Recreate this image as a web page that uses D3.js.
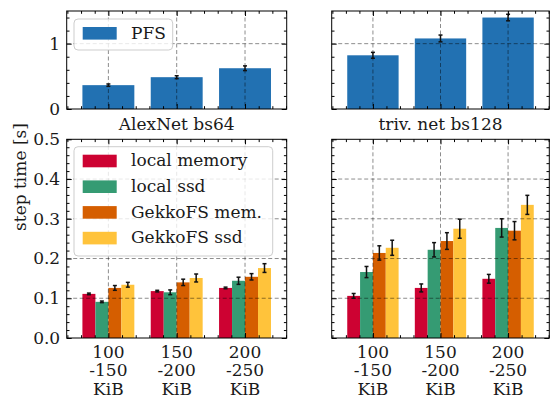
<!DOCTYPE html>
<html>
<head>
<meta charset="utf-8">
<script src="https://cdn.jsdelivr.net/npm/d3@7"></script>
<style>
  body { margin: 0; background: #fff; }
  svg { display: block; }
</style>
</head>
<body>
<div class="area"></div>
<script>
// ---- data ----
const models = ["AlexNet bs64", "triv. net bs128"]
const sizeLabels = [["100", "-150", "KiB"], ["150", "-200", "KiB"], ["200", "-250", "KiB"]]
const seriesNames = ["local memory", "local ssd", "GekkoFS mem.", "GekkoFS ssd"]

const pfsAlex = [0.365, 0.487, 0.624]
const pfsAlexErr = [0.018, 0.022, 0.036]
const pfsTriv = [0.822, 1.08, 1.40]
const pfsTrivErr = [0.045, 0.052, 0.05]

const alexLocalMem = [0.111, 0.118, 0.126]
const alexLocalMemErr = [0.002, 0.002, 0.002]
const alexLocalSsd = [0.091, 0.115, 0.144]
const alexLocalSsdErr = [0.002, 0.006, 0.009]
const alexGekkoMem = [0.126, 0.140, 0.154]
const alexGekkoMemErr = [0.006, 0.008, 0.008]
const alexGekkoSsd = [0.134, 0.151, 0.176]
const alexGekkoSsdErr = [0.006, 0.010, 0.011]

const trivLocalMem = [0.106, 0.126, 0.149]
const trivLocalMemErr = [0.006, 0.010, 0.011]
const trivLocalSsd = [0.166, 0.222, 0.277]
const trivLocalSsdErr = [0.014, 0.018, 0.023]
const trivGekkoMem = [0.214, 0.244, 0.270]
const trivGekkoMemErr = [0.018, 0.021, 0.023]
const trivGekkoSsd = [0.227, 0.275, 0.335]
const trivGekkoSsdErr = [0.019, 0.024, 0.024]

const topTicks = [0, 1]
const bottomTicks = [0, 0.1, 0.2, 0.3, 0.4, 0.5]

// ---- style ----
const width = 550
const height = 398
const font = "'DejaVu Serif', serif"
const fontSize = 17
const textColor = "#1a1a1a"
const pfsColor = "#2271b2"
const seriesColors = ["#cd0232", "#359b73", "#d55e00", "#ffc33b"]
const gridColor = "rgba(0,0,0,0.45)"
const barWidth = 0.76

const cols = [[66.7, 286.7], [331.7, 549.3]]
const rows = [[11, 109], [139.3, 338]]

const svg = d3.select(".area")
  .append("svg")
  .attr("width", width)
  .attr("height", height)
  .attr("viewBox", [0, 0, width, height])
  .style("font-family", font)

function drawPanel(col, row, opts) {
  const x = d3.scaleLinear().domain([-0.61, 2.61]).range(cols[col])
  const y = d3.scaleLinear().domain(opts.yDomain).range([rows[row][1], rows[row][0]])
  const g = svg.append("g")

  // bars
  opts.series.forEach((s, si) => {
    const n = opts.series.length
    const w = barWidth / n
    const off = -barWidth / 2 + w * si
    g.append("g").selectAll("rect")
      .data(s.values)
      .enter()
      .append("rect")
      .attr("x", (d, i) => x(i + off))
      .attr("width", x(w) - x(0))
      .attr("y", d => y(d))
      .attr("height", d => y(0) - y(d))
      .attr("fill", s.color)
  })

  // grid on top of bars
  const grid = g.append("g")
    .attr("stroke", gridColor)
    .attr("stroke-width", 1)
    .attr("stroke-dasharray", "4,2.5")
  grid.selectAll("vline").data([0, 1, 2]).enter().append("line")
    .attr("x1", d => x(d)).attr("x2", d => x(d))
    .attr("y1", rows[row][0]).attr("y2", rows[row][1])
  grid.selectAll("hline").data(opts.yTicks.slice(1, -1).concat(opts.yTicks.length == 2 ? [1] : [])).enter().append("line")
    .attr("x1", cols[col][0]).attr("x2", cols[col][1])
    .attr("y1", d => y(d)).attr("y2", d => y(d))

  // error bars
  opts.series.forEach((s, si) => {
    const n = opts.series.length
    const w = barWidth / n
    const off = -barWidth / 2 + w * si + w / 2
    const eb = g.append("g").attr("stroke", "#111").attr("stroke-width", 1.5)
    s.values.forEach((v, i) => {
      const cx = x(i + off)
      const e = s.errors[i]
      eb.append("line").attr("x1", cx).attr("x2", cx).attr("y1", y(v - e)).attr("y2", y(v + e))
      eb.append("line").attr("x1", cx - 2).attr("x2", cx + 2).attr("y1", y(v - e)).attr("y2", y(v - e))
      eb.append("line").attr("x1", cx - 2).attr("x2", cx + 2).attr("y1", y(v + e)).attr("y2", y(v + e))
    })
  })

  // inward ticks on all sides
  const xMinor = d3.range(-0.6, 2.61, 0.2).map(d => Math.round(d * 10) / 10).filter(d => Math.abs(d - Math.round(d)) > 0.01)
  const yMinor = d3.range(opts.yDomain[0], opts.yDomain[1] + 1e-9, opts.minorStep)
    .filter(d => !opts.yTicks.some(t => Math.abs(t - d) < 1e-9))

  const axB = g.append("g").attr("transform", `translate(0,${rows[row][1]})`)
    .call(d3.axisBottom(x).tickValues([0, 1, 2]).tickSize(-5).tickFormat(""))
  const axT = g.append("g").attr("transform", `translate(0,${rows[row][0]})`)
    .call(d3.axisTop(x).tickValues([0, 1, 2]).tickSize(-5).tickFormat(""))
  const axL = g.append("g").attr("transform", `translate(${cols[col][0]},0)`)
    .call(d3.axisLeft(y).tickValues(opts.yTicks).tickSize(-5).tickPadding(6.5)
      .tickFormat(col == 0 ? opts.yFormat : ""))
  const axR = g.append("g").attr("transform", `translate(${cols[col][1]},0)`)
    .call(d3.axisRight(y).tickValues(opts.yTicks).tickSize(-5).tickFormat(""))
  const mB = g.append("g").attr("transform", `translate(0,${rows[row][1]})`)
    .call(d3.axisBottom(x).tickValues(xMinor).tickSize(-2.8).tickFormat(""))
  const mT = g.append("g").attr("transform", `translate(0,${rows[row][0]})`)
    .call(d3.axisTop(x).tickValues(xMinor).tickSize(-2.8).tickFormat(""))
  const mL = g.append("g").attr("transform", `translate(${cols[col][0]},0)`)
    .call(d3.axisLeft(y).tickValues(yMinor).tickSize(-2.8).tickFormat(""))
  const mR = g.append("g").attr("transform", `translate(${cols[col][1]},0)`)
    .call(d3.axisRight(y).tickValues(yMinor).tickSize(-2.8).tickFormat(""))

  ;[axB, axT, axL, axR, mB, mT, mL, mR].forEach(a => {
    a.select(".domain").remove()
    a.selectAll("line").attr("stroke", "#000").attr("stroke-width", 1)
    a.selectAll("text")
      .attr("font-family", font)
      .attr("font-size", fontSize)
      .attr("fill", textColor)
  })

  // frame
  g.append("rect")
    .attr("x", cols[col][0]).attr("y", rows[row][0])
    .attr("width", cols[col][1] - cols[col][0])
    .attr("height", rows[row][1] - rows[row][0])
    .attr("fill", "none").attr("stroke", "#000").attr("stroke-width", 1)

  return { x, y, g }
}

// ---- top panels ----
const pfsTop = [[pfsAlex, pfsAlexErr], [pfsTriv, pfsTrivErr]]
pfsTop.forEach((p, col) => {
  drawPanel(col, 0, {
    yDomain: [0, 1.5],
    yTicks: topTicks,
    minorStep: 0.2,
    yFormat: d3.format("d"),
    series: [{ values: p[0], errors: p[1], color: pfsColor }]
  })
  svg.append("text")
    .attr("x", (cols[col][0] + cols[col][1]) / 2)
    .attr("y", 130)
    .attr("text-anchor", "middle")
    .attr("font-size", fontSize)
    .attr("fill", textColor)
    .text(models[col])
})

// ---- bottom panels ----
const bottomData = [
  [[alexLocalMem, alexLocalMemErr], [alexLocalSsd, alexLocalSsdErr], [alexGekkoMem, alexGekkoMemErr], [alexGekkoSsd, alexGekkoSsdErr]],
  [[trivLocalMem, trivLocalMemErr], [trivLocalSsd, trivLocalSsdErr], [trivGekkoMem, trivGekkoMemErr], [trivGekkoSsd, trivGekkoSsdErr]]
]
bottomData.forEach((panel, col) => {
  const p = drawPanel(col, 1, {
    yDomain: [0, 0.5],
    yTicks: bottomTicks,
    minorStep: 0.02,
    yFormat: d3.format(".1f"),
    series: panel.map((s, i) => ({ values: s[0], errors: s[1], color: seriesColors[i] }))
  })
  const lbl = svg.append("g")
  sizeLabels.forEach((lines, i) => {
    const t = lbl.append("text")
      .attr("x", p.x(i))
      .attr("y", 357.5)
      .attr("text-anchor", "middle")
      .attr("font-size", fontSize)
      .attr("fill", textColor)
    lines.forEach((l, li) => {
      t.append("tspan").attr("x", p.x(i)).attr("dy", li == 0 ? 0 : 18.5).text(l)
    })
  })
})

// ---- legends ----
function legend(x0, y0, w, h, names, colors) {
  const lg = svg.append("g")
  lg.append("rect")
    .attr("x", x0).attr("y", y0).attr("width", w).attr("height", h)
    .attr("rx", 4)
    .attr("fill", "rgba(255,255,255,0.8)")
    .attr("stroke", "rgba(200,200,200,0.9)")
    .attr("stroke-width", 1)
  names.forEach((n, i) => {
    const yy = y0 + 8 + i * 25.7
    lg.append("rect")
      .attr("x", x0 + 8.7).attr("y", yy).attr("width", 34).attr("height", 12.6)
      .attr("fill", colors[i])
    lg.append("text")
      .attr("x", x0 + 57)
      .attr("y", yy + 11.5)
      .attr("font-size", fontSize)
      .attr("fill", textColor)
      .text(n)
  })
}
legend(74, 19, 98.7, 31, ["PFS"], [pfsColor])
legend(74, 146.7, 198.7, 109.3, seriesNames, seriesColors)

// ---- y label ----
svg.append("text")
  .attr("transform", "translate(26,177) rotate(-90)")
  .attr("text-anchor", "middle")
  .attr("font-size", fontSize)
  .attr("fill", textColor)
  .text("step time [s]")
</script>
</body>
</html>
